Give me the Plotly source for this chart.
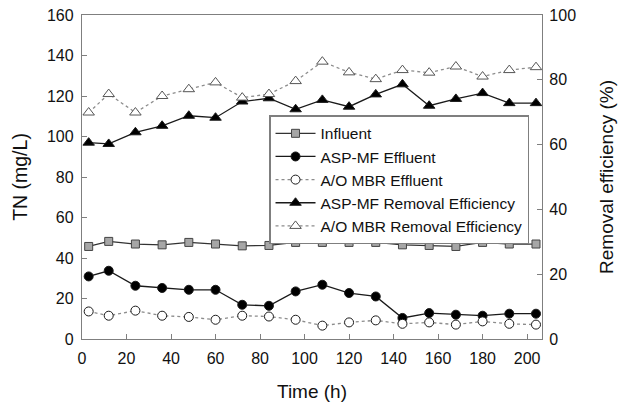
import plotly.graph_objects as go

time_h = [3, 12, 24, 36, 48, 60, 72, 84, 96, 108, 120, 132, 144, 156, 168, 180, 192, 204]
influent = [45.7, 48.2, 46.9, 46.5, 47.7, 46.9, 46.0, 46.2, 47.7, 47.7, 47.7, 47.7, 46.5, 46.2, 45.7, 47.7, 46.9, 46.9]
asp_effluent = [30.9, 33.7, 26.3, 25.2, 24.3, 24.3, 16.9, 16.4, 23.5, 26.8, 22.7, 21.0, 10.4, 12.8, 12.0, 11.5, 12.5, 12.5]
ao_effluent = [13.6, 11.5, 14.0, 11.5, 10.9, 9.5, 11.5, 11.1, 9.5, 6.6, 8.2, 9.2, 7.5, 8.2, 7.1, 8.7, 7.5, 7.1]
asp_removal = [60.6, 60.2, 63.8, 65.8, 68.9, 68.3, 73.3, 74.3, 70.9, 73.8, 71.7, 75.5, 78.6, 72.0, 74.1, 75.9, 72.8, 72.8]
ao_removal = [69.9, 75.6, 69.9, 75.0, 77.1, 79.2, 74.5, 75.6, 79.6, 85.6, 82.3, 80.2, 83.0, 82.2, 84.1, 81.0, 83.0, 83.9]

x_ticks = list(range(0, 201, 20))
y1_ticks = list(range(0, 161, 20))
y2_ticks = list(range(0, 101, 20))

FONT = "Liberation Sans, Arial, sans-serif"
solid = dict(color="#1a1a1a", width=1.3)
dotted = dict(color="#8c8c8c", width=1.3, dash="dot")
edge = dict(color="#1a1a1a", width=1)

fig = go.Figure()
fig.add_trace(go.Scatter(x=time_h, y=influent, name="Influent", mode="lines+markers",
                         line=dict(color="#333333", width=1.3),
                         marker=dict(symbol="square", size=8, color="#a6a6a6", line=dict(color="#444444", width=1))))
fig.add_trace(go.Scatter(x=time_h, y=asp_effluent, name="ASP-MF Effluent", mode="lines+markers",
                         line=solid, marker=dict(symbol="circle", size=9, color="#000000", line=edge)))
fig.add_trace(go.Scatter(x=time_h, y=ao_effluent, name="A/O MBR Effluent", mode="lines+markers",
                         line=dotted, marker=dict(symbol="circle", size=9, color="#ffffff", line=edge)))
fig.add_trace(go.Scatter(x=time_h, y=asp_removal, name="ASP-MF Removal Efficiency", mode="lines+markers",
                         yaxis="y2", line=solid,
                         marker=dict(symbol="triangle-up", size=10, color="#000000", line=edge)))
fig.add_trace(go.Scatter(x=time_h, y=ao_removal, name="A/O MBR Removal Efficiency", mode="lines+markers",
                         yaxis="y2", line=dotted,
                         marker=dict(symbol="triangle-up", size=10, color="#ffffff", line=dict(color="#555555", width=1))))

axis_common = dict(showgrid=False, zeroline=False, showline=True, linecolor="#7f7f7f", linewidth=1.3,
                   ticks="inside", ticklen=5, tickcolor="#7f7f7f", automargin=False,
                   tickfont=dict(family=FONT, size=16, color="#111111"))

fig.update_layout(
    width=625, height=407,
    margin=dict(l=82, r=83, t=15, b=68),
    paper_bgcolor="white", plot_bgcolor="white",
    font=dict(family=FONT, color="#111111"),
    showlegend=True,
    legend=dict(x=0.407, y=0.69, xanchor="left", yanchor="top",
                bordercolor="#7f7f7f", borderwidth=1.3, bgcolor="white",
                font=dict(family=FONT, size=15.5, color="#111111"),
                tracegroupgap=0, itemwidth=40),
    xaxis=dict(range=[0, 206.7], tickvals=x_ticks, mirror=True, ticklabelstandoff=5,
               title=dict(text="Time (h)", font=dict(family=FONT, size=19), standoff=18),
               **axis_common),
    yaxis=dict(range=[0, 160], tickvals=y1_ticks, ticklabelstandoff=4,
               title=dict(text="TN (mg/L)", font=dict(family=FONT, size=19.5), standoff=14),
               **axis_common),
    yaxis2=dict(range=[0, 100], tickvals=y2_ticks, overlaying="y", side="right", ticklabelstandoff=3,
                title=dict(text="Removal efficiency (%)", font=dict(family=FONT, size=19), standoff=24),
                **axis_common),
)

# remove the default 8px page margin so the figure fills the window exactly
fig.write_html("out.html", config={"displayModeBar": False},
               post_script="document.body.style.margin='0px';")
